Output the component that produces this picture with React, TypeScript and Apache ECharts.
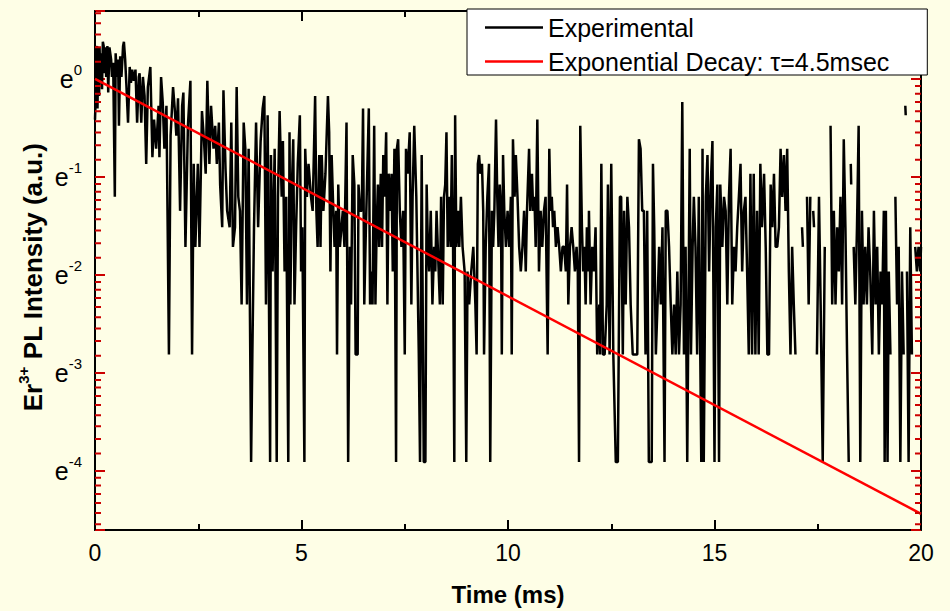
import React, { useEffect, useRef } from 'react';
import * as echarts from 'echarts';

// ---------- axes ----------
const X_MIN = 0;
const X_MAX = 20;
const X_STEP = 5;
const Y_MIN = 0.01;
const Y_MAX = 2;
const yTickExponents = [0, -1, -2, -3, -4];
const minorDecadeExponents = [-5, -4, -3, -2, -1, 0];
const MINOR_PER_DECADE = 8;

const xAxisTitle = 'Time (ms)';
const yAxisTitle = '{n|Er}{s|3+}{n| PL Intensity (a.u.)}';
const legendNames = ['Experimental', 'Exponential Decay: \u03c4=4.5msec'];

// ---------- experimental data: [time (ms), intensity (a.u.)], null = no signal ----------
type Pt = [number, number | null];

const exp0to4: Pt[] = [
  [0.00,0.66],[0.02,0.86],[0.03,1.26],[0.05,1.40],[0.06,0.74],[0.08,1.36],[0.10,0.84],[0.11,1.38],[0.13,1.02],[0.15,1.30],
  [0.17,0.90],[0.19,1.46],[0.21,1.40],[0.23,1.06],[0.26,1.38],[0.27,1.02],[0.30,1.40],[0.32,0.87],[0.35,1.38],[0.39,1.22],
  [0.41,1.02],[0.44,1.18],[0.48,0.30],[0.50,1.30],[0.53,1.02],[0.56,1.22],[0.58,0.62],[0.61,1.26],[0.64,1.02],[0.68,1.40],
  [0.70,1.46],[0.73,1.22],[0.76,0.94],[0.80,0.64],[0.84,1.13],[0.87,0.96],[0.90,1.10],[0.94,0.98],[0.98,1.10],[1.02,0.64],
  [1.06,1.02],[1.08,1.06],[1.12,0.64],[1.16,1.02],[1.20,0.84],[1.24,0.42],[1.28,0.92],[1.34,1.13],[1.39,0.45],[1.43,0.66],
  [1.48,0.49],[1.54,0.76],[1.56,0.45],[1.60,1.02],[1.64,0.79],[1.68,0.49],[1.73,0.76],[1.79,0.06],[1.83,0.56],[1.89,0.92],
  [1.93,0.74],[1.97,0.56],[2.01,0.82],[2.06,0.26],[2.11,0.76],[2.14,0.87],[2.19,0.18],[2.25,0.62],[2.31,0.98],[2.35,0.06],
  [2.39,0.42],[2.43,0.18],[2.49,0.42],[2.53,0.18],[2.59,0.72],[2.64,0.53],[2.68,0.38],[2.72,0.98],[2.77,0.42],[2.81,0.76],
  [2.87,0.49],[2.91,0.62],[2.95,0.42],[3.00,0.64],[3.03,0.34],[3.08,0.22],[3.11,0.89],[3.16,0.40],[3.20,0.26],[3.26,0.22],
  [3.30,0.64],[3.34,0.18],[3.39,0.22],[3.43,0.92],[3.47,0.30],[3.51,0.26],[3.55,0.10],[3.60,0.64],[3.64,0.49],[3.68,0.10],
  [3.72,0.49],[3.78,0.02],[3.81,0.06],[3.85,0.22],[3.90,0.64],[3.95,0.22],
];

const exp4to8: Pt[] = [
  [4.01,0.53],[4.06,0.74],[4.10,0.84],[4.14,0.10],[4.18,0.69],[4.24,0.02],[4.26,0.46],[4.30,0.14],[4.35,0.49],[4.40,0.02],
  [4.43,0.30],[4.47,0.72],[4.52,0.30],[4.55,0.53],[4.59,0.14],[4.63,0.30],[4.68,0.02],[4.71,0.58],[4.73,0.10],[4.76,0.30],
  [4.80,0.54],[4.83,0.10],[4.87,0.22],[4.91,0.42],[4.96,0.69],[4.99,0.14],[5.02,0.22],[5.07,0.02],[5.09,0.49],[5.13,0.30],
  [5.17,0.42],[5.23,0.30],[5.27,0.26],[5.33,0.84],[5.36,0.26],[5.39,0.18],[5.43,0.46],[5.46,0.18],[5.49,0.46],[5.53,0.26],
  [5.58,0.38],[5.64,0.84],[5.67,0.58],[5.70,0.14],[5.73,0.46],[5.76,0.30],[5.80,0.18],[5.84,0.26],[5.86,0.06],[5.89,0.34],
  [5.93,0.18],[6.00,0.26],[6.04,0.18],[6.09,0.64],[6.13,0.02],[6.17,0.18],[6.20,0.10],[6.24,0.46],[6.28,0.34],[6.31,0.06],
  [6.36,0.06],[6.38,0.34],[6.42,0.26],[6.46,0.26],[6.49,0.74],[6.52,0.10],[6.56,0.22],[6.63,0.74],[6.66,0.10],[6.69,0.14],
  [6.72,0.10],[6.76,0.62],[6.79,0.10],[6.82,0.22],[6.85,0.34],[6.88,0.18],[6.92,0.38],[6.95,0.18],[6.98,0.46],[7.01,0.30],
  [7.05,0.58],[7.08,0.10],[7.11,0.38],[7.15,0.26],[7.18,0.38],[7.21,0.14],[7.25,0.49],[7.29,0.02],[7.31,0.49],[7.34,0.54],
  [7.38,0.26],[7.42,0.18],[7.46,0.26],[7.50,0.06],[7.53,0.49],[7.57,0.38],[7.62,0.58],[7.66,0.10],[7.69,0.30],[7.73,0.62],
  [7.78,0.30],[7.84,0.06],[7.87,0.02],[7.91,0.46],[7.96,0.02],
];

const exp8to12: Pt[] = [
  [8.00,0.02],[8.03,0.34],[8.06,0.18],[8.09,0.14],[8.13,0.26],[8.17,0.10],[8.21,0.18],[8.24,0.14],[8.27,0.26],[8.30,0.18],
  [8.35,0.10],[8.38,0.30],[8.42,0.10],[8.45,0.30],[8.48,0.34],[8.51,0.58],[8.54,0.18],[8.58,0.30],[8.61,0.18],[8.64,0.46],
  [8.67,0.18],[8.70,0.02],[8.72,0.69],[8.75,0.18],[8.79,0.26],[8.82,0.18],[8.86,0.30],[8.90,0.18],[8.95,0.14],[8.99,0.02],
  [9.02,0.14],[9.06,0.10],[9.11,0.14],[9.16,0.18],[9.21,0.10],[9.24,0.06],[9.27,0.42],[9.30,0.46],[9.33,0.38],[9.37,0.42],
  [9.40,0.26],[9.42,0.06],[9.46,0.18],[9.50,0.30],[9.54,0.42],[9.57,0.02],[9.61,0.26],[9.64,0.18],[9.67,0.26],[9.71,0.66],
  [9.74,0.30],[9.77,0.18],[9.80,0.34],[9.83,0.26],[9.85,0.06],[9.88,0.46],[9.91,0.26],[9.95,0.18],[9.99,0.26],[10.03,0.18],
  [10.07,0.30],[10.09,0.06],[10.12,0.54],[10.16,0.30],[10.19,0.46],[10.23,0.30],[10.27,0.18],[10.31,0.14],[10.35,0.18],[10.39,0.26],
  [10.43,0.14],[10.46,0.26],[10.51,0.49],[10.54,0.26],[10.58,0.38],[10.61,0.26],[10.64,0.30],[10.67,0.18],[10.71,0.66],[10.75,0.14],
  [10.79,0.26],[10.83,0.18],[10.87,0.26],[10.91,0.30],[10.96,0.06],[11.00,0.49],[11.03,0.26],[11.06,0.30],[11.09,0.22],[11.12,0.26],
  [11.16,0.18],[11.20,0.22],[11.24,0.18],[11.28,0.14],[11.32,0.18],[11.36,0.18],[11.40,0.14],[11.43,0.34],[11.46,0.10],[11.50,0.18],
  [11.54,0.22],[11.58,0.18],[11.62,0.14],[11.66,0.18],[11.69,0.14],[11.72,0.02],[11.75,0.62],[11.79,0.22],[11.82,0.14],[11.85,0.18],
  [11.88,0.10],[11.91,0.22],[11.95,0.14],
];

const exp12to16: Pt[] = [
  [11.96,0.26],[12.00,0.10],[12.04,0.18],[12.08,0.14],[12.12,0.22],[12.16,0.06],[12.21,0.10],[12.23,0.06],[12.26,0.42],[12.30,0.06],
  [12.34,0.06],[12.39,0.10],[12.42,0.34],[12.46,0.06],[12.50,0.42],[12.55,0.06],[12.61,0.02],[12.66,0.02],[12.71,0.30],[12.74,0.30],
  [12.78,0.06],[12.81,0.26],[12.85,0.10],[12.89,0.30],[12.93,0.22],[12.97,0.10],[13.02,0.06],[13.07,0.06],[13.13,0.06],[13.17,0.54],
  [13.21,0.49],[13.25,0.26],[13.29,0.26],[13.33,0.06],[13.37,0.26],[13.41,0.02],[13.48,0.02],[13.51,0.42],[13.54,0.22],[13.58,0.06],
  [13.62,0.10],[13.66,0.18],[13.70,0.10],[13.74,0.22],[13.79,0.02],[13.82,0.26],[13.86,0.26],[13.90,0.18],[13.94,0.10],[13.98,0.06],
  [14.02,0.10],[14.06,0.06],[14.10,0.14],[14.14,0.06],[14.18,0.10],[14.22,0.79],[14.26,0.06],[14.30,0.18],[14.34,0.02],[14.40,0.49],
  [14.43,0.06],[14.47,0.18],[14.50,0.30],[14.54,0.18],[14.58,0.06],[14.62,0.30],[14.68,0.02],[14.71,0.49],[14.74,0.02],[14.79,0.30],
  [14.83,0.46],[14.87,0.14],[14.91,0.34],[14.95,0.53],[15.00,0.02],[15.03,0.22],[15.07,0.34],[15.11,0.02],[15.14,0.34],[15.19,0.18],
  [15.23,0.30],[15.27,0.26],[15.31,0.10],[15.35,0.30],[15.39,0.49],[15.43,0.10],[15.47,0.18],[15.51,0.14],[15.55,0.22],[15.59,0.30],
  [15.63,0.42],[15.67,0.14],[15.71,0.26],[15.75,0.30],[15.79,0.14],[15.83,0.06],[15.87,0.38],[15.91,0.06],
];

const exp16to20: Pt[] = [
  [15.95,0.38],[15.99,0.06],[16.03,0.26],[16.07,0.06],[16.11,0.42],[16.15,0.22],[16.20,0.38],[16.24,0.18],[16.28,0.06],[16.32,0.06],
  [16.36,0.34],[16.40,0.22],[16.44,0.38],[16.48,0.18],[16.52,0.18],[16.56,0.22],[16.60,0.49],[16.64,0.30],[16.68,0.46],[16.72,0.26],
  [16.76,0.49],[16.80,0.14],[16.84,0.06],[16.88,0.18],[16.92,0.10],[16.96,0.06],[17.00,null],[17.12,0.22],[17.14,0.18],[17.17,null],
  [17.24,0.30],[17.28,0.10],[17.32,0.30],[17.35,null],[17.39,0.26],[17.41,0.22],[17.44,null],[17.48,0.06],[17.53,0.30],[17.57,0.10],
  [17.62,0.02],[17.67,0.18],[17.70,null],[17.73,0.06],[17.76,null],[17.81,0.62],[17.85,0.10],[17.89,0.26],[17.93,0.10],[17.97,0.22],
  [18.01,0.14],[18.05,0.30],[18.09,0.10],[18.13,0.54],[18.17,0.22],[18.21,0.06],[18.25,0.02],[18.28,null],[18.30,0.42],[18.31,0.34],
  [18.33,null],[18.37,0.18],[18.41,0.10],[18.45,0.22],[18.49,0.62],[18.53,0.02],[18.57,0.26],[18.61,0.10],[18.65,0.18],[18.69,0.10],
  [18.73,0.22],[18.77,0.14],[18.82,0.06],[18.86,0.26],[18.90,0.10],[18.94,0.18],[18.98,0.06],[19.02,0.14],[19.06,0.10],[19.10,0.26],
  [19.12,0.02],[19.15,0.26],[19.19,0.02],[19.22,0.14],[19.26,0.06],[19.30,null],[19.34,0.18],[19.36,null],[19.38,0.30],[19.42,0.10],
  [19.46,0.18],[19.50,0.02],[19.54,0.14],[19.58,0.06],[19.61,null],[19.62,0.76],[19.63,0.69],[19.65,null],[19.66,0.14],[19.70,0.02],
  [19.74,0.22],[19.78,0.06],[19.82,null],[19.86,0.18],[19.90,0.14],[19.94,0.18],[19.98,0.14],[20.00,0.18],
];

// ---------- fitted exponential decay (straight on the log axis), read at both ends ----------
const fitTime = [0, 20];
const fitIntensity = [1.0, 0.0118];

// ---------- layout / styles ----------
const FONT = "'Liberation Sans', Arial, Helvetica, sans-serif";
const BG = '#FEFEE6';
const INK = '#000000';
const TICK_INK = '#cc0000';
const GRID = { left: 95, right: 29, top: 11, bottom: 80 };
const CHART_W = 950;
const CHART_H = 611;
const MINOR_TICK_PX = 6;
const Y_TITLE_POS = { x: 33, y: 277 };

export default function App() {
  const ref = useRef<HTMLDivElement>(null);

  useEffect(() => {
    if (!ref.current) return;
    const chart = echarts.init(ref.current, undefined, { renderer: 'svg' });

    const expData = [...exp0to4, ...exp4to8, ...exp8to12, ...exp12to16, ...exp16to20].map(
      ([t, v]) => [t, v === null ? '-' : v]
    );
    const fitData = fitTime.map((t, i) => [t, fitIntensity[i]]);

    // Origin-style minor ticks on a base-e log axis: linear subdivisions of each e-decade
    const minorTickValues: number[] = [];
    for (const k of minorDecadeExponents) {
      const base = Math.exp(k);
      for (let n = 1; n <= MINOR_PER_DECADE; n++) {
        const v = base * (1 + (n * (Math.E - 1)) / (MINOR_PER_DECADE + 1));
        if (v > Y_MIN && v < Y_MAX) minorTickValues.push(v);
      }
    }
    const plotW = CHART_W - GRID.left - GRID.right;
    const tickLen = (MINOR_TICK_PX / plotW) * (X_MAX - X_MIN);
    const minorTickData: any[] = [];
    for (const v of minorTickValues) {
      minorTickData.push([X_MIN, v], [X_MIN + tickLen, v], [X_MIN + tickLen, '-']);
      minorTickData.push([X_MAX - tickLen, v], [X_MAX, v], [X_MAX, '-']);
    }

    const yLabelFormatter = (v: number) => {
      const k = Math.log(v);
      const r = Math.round(k);
      if (Math.abs(k - r) > 1e-6 || !yTickExponents.includes(r)) return '';
      return `{b|e}{s|${r === 0 ? 0 : r}}`;
    };

    const mkX = (pos: string, withLabels: boolean) => ({
      type: 'value',
      min: X_MIN,
      max: X_MAX,
      interval: X_STEP,
      position: pos,
      axisLine: { show: true, onZero: false, lineStyle: { color: INK, width: 2 } },
      axisTick: { show: true, inside: true, length: 10, lineStyle: { color: INK, width: 2 } },
      minorTick: { show: true, splitNumber: 2, length: 6, lineStyle: { color: INK, width: 2 } },
      splitLine: { show: false },
      axisLabel: withLabels
        ? { color: INK, fontFamily: FONT, fontSize: 23, margin: 11 }
        : { show: false },
      ...(withLabels
        ? {
            name: xAxisTitle,
            nameLocation: 'middle',
            nameGap: 52,
            nameTextStyle: { color: INK, fontFamily: FONT, fontSize: 24, fontWeight: 'bold' },
          }
        : {}),
    });

    const mkY = (pos: string, withLabels: boolean) => ({
      type: 'log',
      logBase: Math.E,
      min: Y_MIN,
      max: Y_MAX,
      position: pos,
      axisLine: { show: true, onZero: false, lineStyle: { color: INK, width: 2 } },
      axisTick: { show: true, inside: true, length: 10, lineStyle: { color: TICK_INK, width: 2 } },
      splitLine: { show: false },
      axisLabel: withLabels
        ? {
            formatter: yLabelFormatter,
            margin: 13,
            rich: {
              b: { fontFamily: FONT, fontSize: 25, color: INK, lineHeight: 34 },
              s: { fontFamily: FONT, fontSize: 15, color: INK, verticalAlign: 'top' },
            },
          }
        : { show: false },
    });

    const option: any = {
      animation: false,
      backgroundColor: BG,
      grid: { ...GRID, containLabel: false },
      graphic: [
        {
          type: 'text',
          x: Y_TITLE_POS.x,
          y: Y_TITLE_POS.y,
          rotation: Math.PI / 2,
          silent: true,
          style: {
            text: yAxisTitle,
            align: 'center',
            verticalAlign: 'middle',
            fill: INK,
            fontFamily: FONT,
            fontWeight: 'bold',
            fontSize: 26,
            rich: {
              n: { fontFamily: FONT, fontSize: 26, fontWeight: 'bold', fill: INK, lineHeight: 34 },
              s: { fontFamily: FONT, fontSize: 15, fontWeight: 'bold', fill: INK, verticalAlign: 'top' },
            },
          },
        },
      ],
      legend: {
        data: legendNames.map((name) => ({ name, icon: 'rect' })),
        orient: 'vertical',
        left: 467,
        top: 9,
        itemWidth: 58,
        itemHeight: 2.5,
        itemGap: 9,
        padding: [6, 38, 1, 18],
        backgroundColor: '#ffffff',
        borderColor: INK,
        borderWidth: 1,
        borderRadius: 0,
        selectedMode: false,
        z: 10,
        textStyle: { fontFamily: FONT, fontSize: 25, color: INK },
      },
      xAxis: [mkX('bottom', true), mkX('top', false)],
      yAxis: [mkY('left', true), mkY('right', false)],
      series: [
        {
          type: 'line',
          name: legendNames[0],
          data: expData,
          showSymbol: false,
          symbol: 'none',
          connectNulls: false,
          silent: true,
          lineStyle: { color: INK, width: 2.5 },
          itemStyle: { color: INK },
          z: 2,
        },
        {
          type: 'line',
          name: legendNames[1],
          data: fitData,
          showSymbol: false,
          symbol: 'none',
          silent: true,
          lineStyle: { color: '#ff0000', width: 2.5 },
          itemStyle: { color: '#ff0000' },
          z: 3,
        },
        {
          type: 'line',
          name: 'yMinorTicks',
          data: minorTickData,
          showSymbol: false,
          symbol: 'none',
          connectNulls: false,
          silent: true,
          clip: false,
          lineStyle: { color: TICK_INK, width: 2 },
          itemStyle: { color: TICK_INK },
          z: 4,
        },
      ],
    };

    chart.setOption(option);
    return () => chart.dispose();
  }, []);

  return (
    <div
      ref={ref}
      style={{ position: 'fixed', left: 0, top: 0, width: CHART_W, height: CHART_H, background: BG }}
    />
  );
}
